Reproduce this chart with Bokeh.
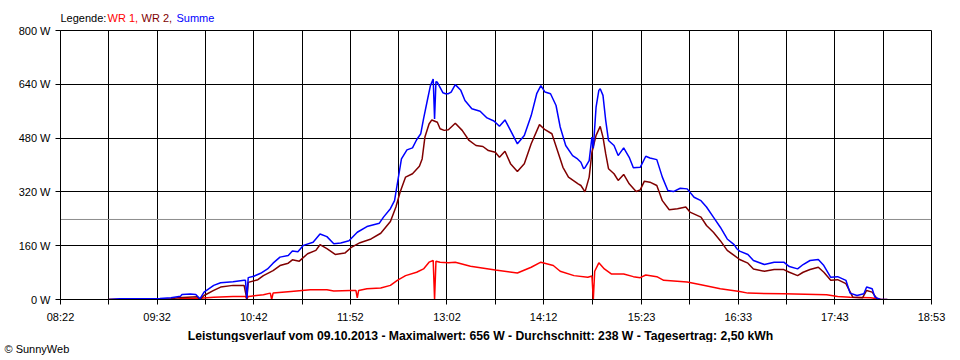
import pandas as pd
from bokeh.plotting import figure
from bokeh.layouts import column
from bokeh.models import Span, FixedTicker, Range1d, DatetimeTickFormatter, PrintfTickFormatter, Title
from bokeh.core.properties import value
from bokeh.embed import file_html
from bokeh.resources import INLINE

DAY = "2013-10-09"
tick_labels = ["08:22", "09:32", "10:42", "11:52", "13:02", "14:12", "15:23", "16:33", "17:43", "18:53"]
y_ticks = [0, 160, 320, 480, 640, 800]
avg_w = 238
title_text = "Leistungsverlauf vom 09.10.2013 - Maximalwert: 656 W - Durchschnitt: 238 W - Tagesertrag: 2,50 kWh"
legend_texts = ["Legende: ", "WR 1,", "WR 2,", "Summe"]
copyright_text = "\u00a9 SunnyWeb"

# WR 1 (red)
t_wr1 = ["08:57", "09:45", "09:49", "10:03", "10:13", "10:27", "10:36", "10:37", "10:38", "10:40", "10:49",
         "10:54", "10:55", "10:56", "11:09", "11:23", "11:35", "11:40", "11:52", "11:56", "11:57", "11:58",
         "12:04", "12:14", "12:21", "12:26", "12:32", "12:40", "12:45", "12:49", "12:52", "12:53", "12:54",
         "12:57", "13:03", "13:08", "13:19", "13:37", "13:53", "14:03", "14:10", "14:19", "14:24", "14:34",
         "14:44", "14:47", "14:48", "14:49", "14:52", "14:56", "15:01", "15:10", "15:17", "15:22", "15:26",
         "15:34", "15:39", "15:56", "16:06", "16:20", "16:34", "16:40", "17:06", "17:37", "17:45", "17:54",
         "18:09", "18:16", "18:21"]
wr1 = [0, 0, 2, 4, 7, 9, 9, 1, 9, 10, 14,
       19, 0, 19, 24, 29, 29, 25, 27, 27, 5, 27,
       32, 34, 42, 57, 71, 81, 91, 111, 116, 0, 114,
       111, 109, 111, 99, 88, 79, 96, 111, 101, 84, 71,
       66, 70, 0, 84, 109, 91, 76, 76, 68, 65, 73,
       68, 57, 52, 44, 32, 24, 19, 17, 14, 9, 7,
       5, 1, 0]

# WR 2 (dark red)
t_wr2 = ["08:57", "09:42", "09:47", "10:01", "10:03", "10:06", "10:13", "10:18", "10:27", "10:35", "10:37",
         "10:38", "10:45", "10:49", "10:56", "11:01", "11:07", "11:10", "11:15", "11:21", "11:27", "11:30",
         "11:35", "11:41", "11:48", "11:53", "11:59", "12:07", "12:14", "12:21", "12:25", "12:28", "12:32",
         "12:37", "12:42", "12:44", "12:46", "12:49", "12:51", "12:55", "12:57", "13:00", "13:03", "13:08",
         "13:13", "13:18", "13:23", "13:28", "13:32", "13:37", "13:40", "13:44", "13:48", "13:53", "13:58",
         "14:03", "14:09", "14:13", "14:18", "14:22", "14:26", "14:30", "14:37", "14:39", "14:42", "14:45",
         "14:47", "14:50", "14:53", "14:55", "14:57", "14:59", "15:03", "15:06", "15:10", "15:14", "15:19",
         "15:22", "15:25", "15:29", "15:34", "15:38", "15:43", "15:49", "15:55", "15:58", "16:06", "16:10",
         "16:15", "16:20", "16:25", "16:30", "16:34", "16:40", "16:44", "16:52", "16:59", "17:06", "17:10",
         "17:16", "17:20", "17:25", "17:31", "17:35", "17:40", "17:45", "17:51", "17:56", "18:03", "18:06",
         "18:10", "18:14", "18:16"]
wr2 = [0, 2, 5, 8, 0, 12, 27, 37, 42, 42, 2,
       51, 59, 71, 86, 101, 108, 118, 114, 136, 146, 163,
       151, 134, 138, 156, 169, 180, 197, 232, 275, 319, 364,
       374, 396, 418, 483, 522, 534, 527, 508, 503, 505, 524,
       503, 473, 458, 455, 443, 438, 423, 441, 404, 381, 404,
       463, 520, 505, 493, 443, 393, 364, 344, 339, 320, 364,
       438, 488, 515, 483, 433, 389, 374, 354, 372, 344, 321,
       326, 352, 349, 339, 294, 267, 270, 275, 260, 245, 220,
       200, 175, 146, 131, 119, 108, 91, 84, 89, 89, 81,
       71, 81, 89, 96, 81, 57, 59, 47, 7, 5, 27,
       22, 0, 0]

# Summe (blue)
t_sum = ["08:57", "09:05", "09:22", "09:34", "09:42", "09:49", "09:50", "09:56", "10:00", "10:03", "10:06",
         "10:13", "10:18", "10:27", "10:35", "10:36", "10:37", "10:38", "10:42", "10:47", "10:52", "10:56",
         "11:01", "11:07", "11:10", "11:14", "11:18", "11:25", "11:30", "11:35", "11:40", "11:45", "11:51",
         "11:57", "12:04", "12:13", "12:16", "12:21", "12:24", "12:26", "12:29", "12:33", "12:37", "12:40",
         "12:43", "12:45", "12:48", "12:50", "12:52", "12:53", "12:54", "12:55", "12:59", "13:01", "13:03",
         "13:05", "13:08", "13:12", "13:15", "13:20", "13:26", "13:31", "13:36", "13:40", "13:44", "13:48",
         "13:53", "13:58", "14:03", "14:07", "14:10", "14:13", "14:17", "14:21", "14:24", "14:28", "14:33",
         "14:36", "14:39", "14:41", "14:42", "14:45", "14:47", "14:48", "14:50", "14:52", "14:53", "14:55",
         "14:57", "14:59", "15:03", "15:06", "15:10", "15:14", "15:17", "15:22", "15:26", "15:29", "15:34",
         "15:38", "15:42", "15:46", "15:51", "15:56", "16:01", "16:06", "16:10", "16:15", "16:20", "16:25",
         "16:30", "16:32", "16:34", "16:40", "16:44", "16:52", "16:59", "17:06", "17:10", "17:16", "17:20",
         "17:25", "17:31", "17:35", "17:40", "17:45", "17:51", "17:54", "17:59", "18:04", "18:06", "18:10",
         "18:12", "18:16", "18:21"]
summe = [0, 2, 2, 3, 5, 10, 15, 16, 15, 2, 22,
         42, 50, 53, 57, 57, 3, 65, 69, 78, 91, 108,
         126, 131, 144, 142, 161, 170, 195, 187, 166, 168, 175,
         200, 217, 227, 245, 270, 294, 344, 418, 445, 451, 475,
         493, 537, 597, 636, 656, 537, 648, 646, 615, 612, 612,
         617, 639, 622, 592, 567, 560, 540, 531, 515, 534, 503,
         463, 488, 547, 612, 636, 617, 612, 577, 513, 458, 428,
         420, 408, 389, 392, 413, 483, 450, 572, 622, 627, 607,
         532, 473, 458, 428, 451, 423, 392, 393, 426, 421, 416,
         364, 324, 321, 331, 329, 304, 294, 275, 245, 215, 180,
         163, 151, 144, 134, 116, 104, 111, 111, 98, 91, 104,
         116, 119, 101, 66, 68, 57, 19, 12, 17, 37, 32,
         7, 0, 0]


def ts(hhmm):
    return pd.Timestamp(f"{DAY} {hhmm}")


FONT = "Liberation Sans"
W = 960
LEFT, RIGHT = 60, 29          # frame spans page x 60..931 in every panel (frames are aligned)
HEAD_H = 24
MAIN_H = 301
FOOT_H = 17
COPY_H = 18


def text_panel(height, y_top):
    f = figure(width=W, height=height, output_backend="svg", toolbar_location=None,
               x_range=Range1d(LEFT, W - RIGHT), y_range=Range1d(y_top, 0),
               min_border_left=LEFT, min_border_right=RIGHT, min_border_top=0, min_border_bottom=0)
    f.axis.visible = False
    f.grid.visible = False
    f.outline_line_color = None
    f.background_fill_color = "white"
    f.border_fill_color = "white"
    return f


# header with coloured legend text
head = text_panel(HEAD_H, HEAD_H)
head.text(x=[60, 107, 141, 176], y=[17, 17, 17, 17], text=legend_texts,
          text_color=["black", "#ff0000", "#800000", "#0000ff"],
          text_font=value(FONT), text_font_size="11px", text_baseline="middle", text_align="left")

# main chart
tick_times = [ts(s) for s in tick_labels]
p = figure(width=W, height=MAIN_H, x_axis_type="datetime", output_backend="svg",
           toolbar_location=None, x_range=Range1d(tick_times[0], tick_times[-1]),
           y_range=Range1d(y_ticks[0], y_ticks[-1]),
           min_border_left=LEFT, min_border_right=RIGHT, min_border_top=6, min_border_bottom=MAIN_H - 6 - 269)
p.background_fill_color = "white"
p.border_fill_color = "white"
p.outline_line_color = "black"
p.outline_line_width = 1

major_ms = [t.value / 1e6 for t in tick_times]
minor_ms = [(a + b) / 2 for a, b in zip(major_ms[:-1], major_ms[1:])]
p.xaxis.ticker = FixedTicker(ticks=major_ms, minor_ticks=minor_ms)
fmt = "%H:%M"
p.xaxis.formatter = DatetimeTickFormatter(seconds=fmt, minsec=fmt, minutes=fmt, hourmin=fmt, hours=fmt,
                                          days=fmt, months=fmt, years=fmt)
p.yaxis.ticker = FixedTicker(ticks=y_ticks)
p.yaxis.formatter = PrintfTickFormatter(format="%d W")

for ax in (p.xaxis[0], p.yaxis[0]):
    ax.axis_line_color = "black"
    ax.major_tick_line_color = "black"
    ax.minor_tick_line_color = "black"
    ax.major_tick_in = 0
    ax.major_tick_out = 5
    ax.minor_tick_in = 0
    ax.minor_tick_out = 5
    ax.major_label_text_font = FONT
    ax.major_label_text_font_size = "11px"
    ax.major_label_text_color = "black"
p.yaxis.minor_tick_out = 0
p.xaxis.major_label_standoff = 6
p.yaxis.major_label_standoff = 5

p.xgrid.grid_line_color = "black"
p.xgrid.minor_grid_line_color = "black"
p.ygrid.grid_line_color = "black"

p.add_layout(Span(location=avg_w, dimension="width", line_color="#8c8c8c", line_width=1, level="underlay"))

p.line([ts(s) for s in t_wr1], wr1, line_color="#ff0000", line_width=1.5)
p.line([ts(s) for s in t_wr2], wr2, line_color="#800000", line_width=1.5)
p.line([ts(s) for s in t_sum], summe, line_color="#0000ff", line_width=1.5)

# footer: summary line
foot = text_panel(FOOT_H, FOOT_H)
foot.text(x=[480], y=[10.5], text=[title_text], text_color="black", text_font=value(FONT),
          text_font_size="12.2px", text_font_style="bold", text_baseline="middle", text_align="center")

# copyright as a left-aligned title at the very left of the page
copy = text_panel(COPY_H, 1)
copy.add_layout(Title(text=copyright_text, align="left", offset=4 - LEFT, standoff=0,
                      text_font=FONT, text_font_size="11px", text_font_style="normal",
                      text_color="black", vertical_align="top"), "above")

layout = column(head, p, foot, copy, spacing=0)
open("out.html", "w").write(file_html(layout, INLINE))
